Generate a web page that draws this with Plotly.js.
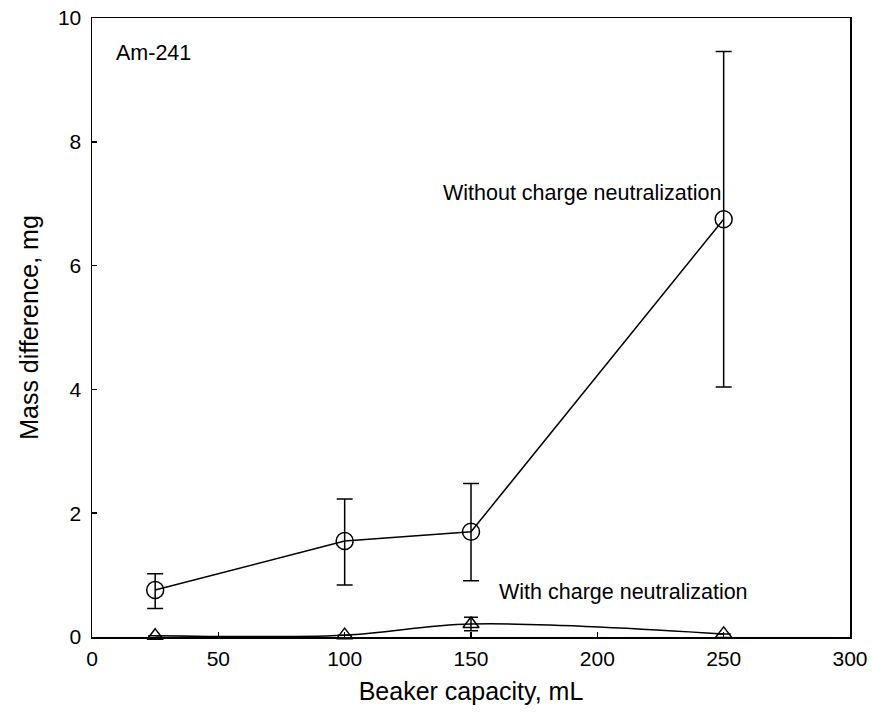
<!DOCTYPE html>
<html>
<head>
<meta charset="utf-8">
<script src="https://cdn.plot.ly/plotly-3.0.1.min.js"></script>
<style>html,body{margin:0;padding:0;background:#fff}#chart{width:872px;height:719px}</style>
</head>
<body>
<div id="chart"></div>
<script>
const capacity = [25, 100, 150, 250];
const withoutNeut = [0.76, 1.55, 1.70, 6.75];
const withoutErrPlus = [0.26, 0.68, 0.78, 2.71];
const withoutErrMinus = [0.30, 0.71, 0.79, 2.71];
const withNeut = [0.02, 0.03, 0.21, 0.05];
const withErr = [0.0, 0.0, 0.11, 0.0];
const xTicks = [0, 50, 100, 150, 200, 250, 300];
const yTicks = [0, 2, 4, 6, 8, 10];

const font = "Liberation Sans, Arial, sans-serif";

const traces = [
  {
    x: capacity, y: withoutNeut, mode: "lines+markers", type: "scatter",
    line: {color: "#000", width: 1.5},
    marker: {symbol: "circle-open", size: 17, color: "#000", line: {width: 1.5, color: "#000"}},
    error_y: {type: "data", array: withoutErrPlus, arrayminus: withoutErrMinus, symmetric: false, visible: true, color: "#000", thickness: 1.5, width: 8},
    cliponaxis: true
  },
  {
    x: capacity, y: withNeut, mode: "lines+markers", type: "scatter",
    line: {color: "#000", width: 1.5, shape: "spline", smoothing: 1},
    marker: {symbol: "triangle-up-open", size: 14, color: "#000", line: {width: 1.5, color: "#000"}},
    error_y: {type: "data", array: withErr, visible: true, color: "#000", thickness: 1.5, width: 7},
    cliponaxis: false
  }
];

const layout = {
  width: 872, height: 719,
  margin: {l: 92, r: 22, t: 18, b: 82},
  paper_bgcolor: "#fff", plot_bgcolor: "#fff",
  showlegend: false,
  font: {family: font, color: "#000", size: 21},
  xaxis: {
    range: [0, 300], tickmode: "array", tickvals: xTicks, ticktext: xTicks.map(String),
    ticks: "inside", ticklen: 5, tickwidth: 1.5, tickcolor: "#000",
    ticklabelstandoff: 2,
    showline: true, linecolor: "#000", linewidth: 1.5, mirror: true,
    showgrid: false, zeroline: false,
    tickfont: {size: 21, family: font, color: "#000"},
    title: {text: "Beaker capacity, mL", font: {size: 25, family: font}, standoff: 14}
  },
  yaxis: {
    range: [0, 10], tickmode: "array", tickvals: yTicks, ticktext: yTicks.map(String),
    ticks: "inside", ticklen: 5, tickwidth: 1.5, tickcolor: "#000",
    ticklabelstandoff: 5,
    showline: true, linecolor: "#000", linewidth: 1.5, mirror: true,
    showgrid: false, zeroline: false,
    tickfont: {size: 21, family: font, color: "#000"},
    title: {text: "Mass difference, mg", font: {size: 25, family: font}, standoff: 12}
  },
  annotations: [
    {text: "Am-241", x: 0.029, y: 0.943, xref: "paper", yref: "paper", xanchor: "left", yanchor: "middle", showarrow: false, font: {size: 21.5, family: font}},
    {text: "Without charge neutralization", x: 0.460, y: 0.717, xref: "paper", yref: "paper", xanchor: "left", yanchor: "middle", showarrow: false, font: {size: 21.5, family: font}},
    {text: "With charge neutralization", x: 0.534, y: 0.073, xref: "paper", yref: "paper", xanchor: "left", yanchor: "middle", showarrow: false, font: {size: 21.5, family: font}}
  ]
};

Plotly.newPlot("chart", traces, layout, {displayModeBar: false, staticPlot: true});
</script>
</body>
</html>
